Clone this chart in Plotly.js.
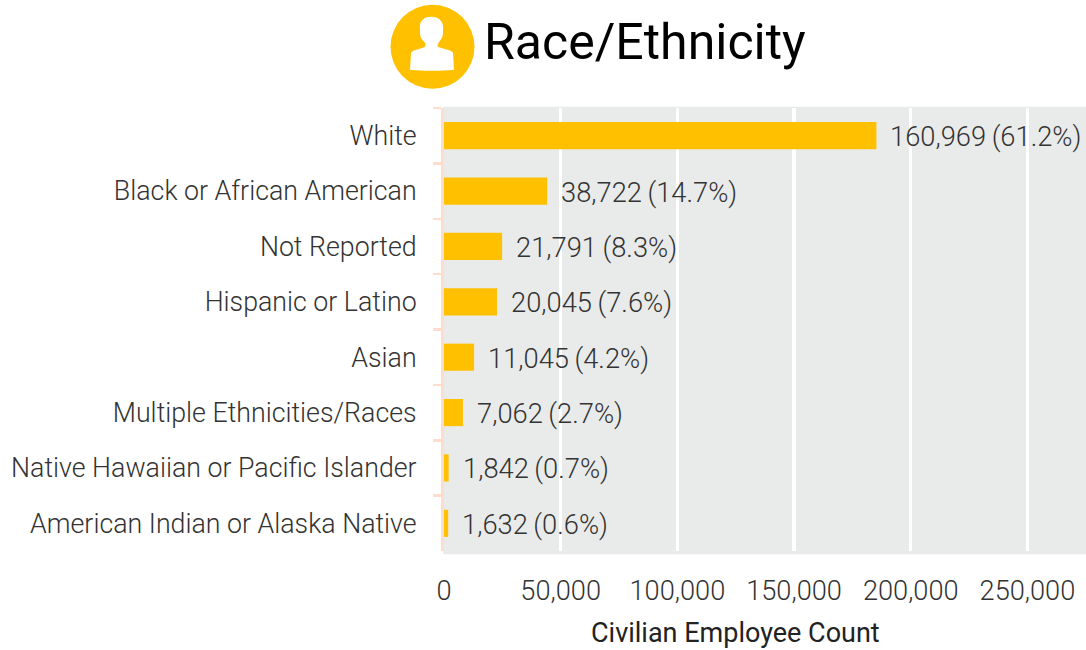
<!DOCTYPE html>
<html>
<head>
<meta charset="utf-8">
<script src="https://cdn.plot.ly/plotly-3.0.1.min.js"></script>
<style>html,body{margin:0;padding:0;background:#fff}#chart{width:1086px;height:650px}</style>
</head>
<body>
<div id="chart"></div>
<script>
const categories = ["White","Black or African American","Not Reported","Hispanic or Latino","Asian","Multiple Ethnicities/Races","Native Hawaiian or Pacific Islander","American Indian or Alaska Native"];
// Bar lengths as they read against the drawn axis (the printed labels are smaller than the bars in the source)
const barLengths = [185300,44200,24900,22700,12900,8100,2000,1800];
const labelCounts = [160969,38722,21791,20045,11045,7062,1842,1632];
const shares = [61.2,14.7,8.3,7.6,4.2,2.7,0.7,0.6];
const xTicks = [0,50000,100000,150000,200000,250000];
const W=1086,H=650,L=444,R=0,T=108.3,B=98.7;
const pw=W-L-R,ph=H-T-B;
const px=x=>(x-L)/pw, py=y=>1-(y-T)/ph;
const P=(x,y)=>px(x).toFixed(5)+','+py(y).toFixed(5);
const person=[
 'M',P(431,17),'C',P(422,17),P(419,23),P(420,30),'C',P(420,36),P(420,37),P(423,41),'C',P(426,43),P(426,46),P(425,47),
 'C',P(422,49),P(413,50),P(411,53),'L',P(410,70),'C',P(424,71.5),P(440,71.5),P(454,70),'L',P(453,53),
 'C',P(451,50),P(442,49),P(438,47),'C',P(437,46),P(438,43),P(440,41),'C',P(443,37),P(443,36),P(443,30),'C',P(444,23),P(440,17),P(431,17),'Z'
].join(' ');
const font='Roboto, sans-serif';
const trace={type:'bar',orientation:'h',y:categories,x:barLengths,width:0.49,marker:{color:'#FFC000'},hoverinfo:'skip'};
const notes=categories.map((c,i)=>({xref:'x',yref:'y',x:barLengths[i],y:c,xanchor:'left',yanchor:'middle',xshift:12,yshift:-1.5,showarrow:false,
  text:labelCounts[i].toLocaleString('en-US')+'\u2009('+shares[i].toFixed(1)+'%)',font:{family:font,size:27.3,weight:300,color:'#333'}}));
notes.push({xref:'paper',yref:'paper',x:px(735),y:py(633),xanchor:'center',yanchor:'middle',showarrow:false,
  text:'Civilian Employee Count',font:{family:font,size:27,weight:450,color:'#222'}});
const layout={
 width:W,height:H,paper_bgcolor:'#fff',plot_bgcolor:'rgba(0,0,0,0)',showlegend:false,
 margin:{l:L,r:R,t:T,b:B,pad:0},
 title:{text:'Race/Ethnicity',font:{family:font,size:50,color:'#000'},xref:'paper',yref:'container',x:(484-L)/pw,xanchor:'left',y:1-41/H,yanchor:'middle'},
 xaxis:{range:[0,275100],tickvals:xTicks,tickformat:',',showgrid:true,gridcolor:'#fff',gridwidth:3.3,zeroline:false,showline:false,ticks:'',
   tickfont:{family:font,size:27.2,weight:300,color:'#333'},ticklabelstandoff:21},
 yaxis:{type:'category',autorange:false,range:[7.5,-0.5],tickson:'boundaries',ticks:'outside',ticklen:8,tickwidth:2.5,tickcolor:'#FFDCCB',
   showline:true,linecolor:'#FFDCCB',linewidth:3,showgrid:false,zeroline:false,
   tickfont:{family:font,size:26.75,weight:300,color:'#333'},ticklabelstandoff:19},
 annotations:notes,
 shapes:[
  {type:'rect',xref:'paper',yref:'paper',x0:px(443.3),x1:1,y0:py(554.5),y1:py(107),fillcolor:'#E9EBEA',line:{width:0},layer:'below'},
  {type:'circle',xref:'paper',yref:'paper',x0:px(390.5),x1:px(474.5),y0:py(89),y1:py(5),fillcolor:'#FFC000',line:{width:0},layer:'above'},
  {type:'path',xref:'paper',yref:'paper',path:person,fillcolor:'#fff',line:{width:0},layer:'above'}
 ]
};
Plotly.newPlot('chart',[trace],layout,{displayModeBar:false,staticPlot:true});
</script>
</body>
</html>
